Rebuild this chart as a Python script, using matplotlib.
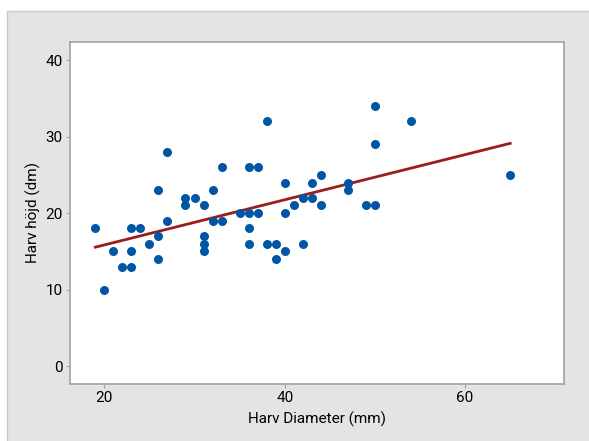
import numpy as np
import matplotlib
matplotlib.use('Agg')
import matplotlib.pyplot as plt
from matplotlib.patches import Rectangle

plt.rcParams['font.family'] = ['Roboto', 'DejaVu Sans']

# Harv diameter (mm) vs height (dm)
diameter = [19, 20, 21, 22, 23, 23, 23, 24, 25, 26, 26, 26, 27, 27, 29, 29, 30, 31,
            31, 31, 31, 32, 32, 33, 33, 35, 36, 36, 36, 36, 37, 37, 38, 38, 39, 39,
            40, 40, 40, 41, 42, 42, 43, 43, 44, 44, 47, 47, 49, 50, 50, 50, 54, 65]
hojd = [18, 10, 15, 13, 13, 15, 18, 18, 16, 17, 14, 23, 28, 19, 22, 21, 22, 21,
        17, 16, 15, 23, 19, 19, 26, 20, 20, 26, 18, 16, 26, 20, 32, 16, 16, 14,
        15, 20, 24, 21, 22, 16, 22, 24, 25, 21, 24, 23, 21, 21, 29, 34, 32, 25]
x_ticks = [20, 40, 60]
y_ticks = [0, 10, 20, 30, 40]

fig = plt.figure(figsize=(5.89, 4.41), dpi=100)
fig.patch.set_facecolor('white')
# grey panel behind the graph (Minitab style)
fig.patches.append(Rectangle((7 / 589, -0.01), 1, 1.01 - 11 / 441, transform=fig.transFigure,
                             facecolor='#e4e4e4', edgecolor='#c8c8c8', linewidth=1, zorder=-10))

ax = fig.add_axes([69.5 / 589, 1 - 384 / 441, (564.3 - 69.5) / 589, (384 - 41.7) / 441])
ax.set_zorder(5)
ax.set_facecolor('white')

ax.scatter(diameter, hojd, s=42, color='#0055a5', zorder=3, linewidths=0)

k, m = np.polyfit(diameter, hojd, 1)
xs = np.array([min(diameter), max(diameter)])
ax.plot(xs, k * xs + m, color='#9b1c1c', linewidth=2, zorder=2)

ax.set_xlim(16.14, 71.0)
ax.set_ylim(-2.33, 42.4)
ax.set_xticks(x_ticks)
ax.set_yticks(y_ticks)
ax.tick_params(length=3, pad=2, color='#a0a0a0', labelsize=11, labelcolor='black')
for s in ax.spines.values():
    s.set_color('#a8a8a8')
    s.set_linewidth(1.3)

ax.set_xlabel('Harv Diameter (mm)', fontsize=11, labelpad=5)
ax.set_ylabel('Harv höjd (dm)', fontsize=11, labelpad=3)

fig.savefig('out.png', dpi=100, facecolor=fig.get_facecolor())
